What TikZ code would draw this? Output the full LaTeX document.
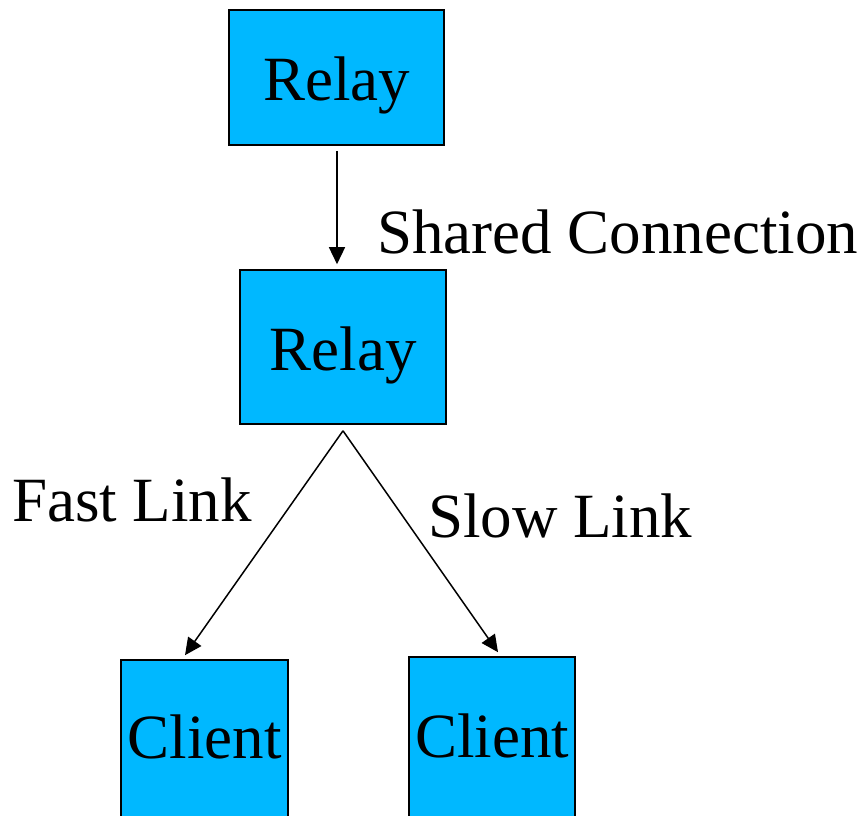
\documentclass[tikz,border=0pt]{standalone}
\usepackage{fontspec}
\setmainfont{Liberation Serif}
\usetikzlibrary{arrows.meta}
\definecolor{boxblue}{HTML}{00B8FF}
\begin{document}
\begin{tikzpicture}[x=1pt,y=-1pt,
  box/.style={draw=black, line width=1.6pt, fill=boxblue, inner sep=0pt,
    font=\fontsize{63}{70}\selectfont, text depth=0pt},
  lbl/.style={anchor=base west, inner sep=0pt, font=\fontsize{63}{70}\selectfont},
  arr/.style={draw=black, line width=1.5pt, -{Triangle[length=17pt,width=16pt]}}]
\clip (0,0) rectangle (868,815);
\fill[white] (0,0) rectangle (868,815);
\node[box, minimum width=215pt, minimum height=135pt, text height=45pt] (r1) at (336.5,77.5) {Relay};
\node[box, minimum width=206pt, minimum height=154pt, text height=46pt] (r2) at (343,347) {Relay};
\node[box, minimum width=167pt, minimum height=160pt, text height=36pt] (c1) at (204.5,740) {Client};
\node[box, minimum width=166pt, minimum height=160pt, text height=40pt] (c2) at (492,737) {Client};
\node[lbl] (t1) at (377,253) {Shared Connection};
\node[lbl] (t2) at (12,521) {Fast Link};
\node[lbl] (t3) at (428,537) {Slow Link};
\draw[arr] ([xshift=0.5pt,yshift=-5pt]r1.south) -- ([xshift=-6pt,yshift=5pt]r2.north);
\draw[arr] ([yshift=-6pt]r2.south) -- ([xshift=-19.5pt,yshift=4pt]c1.north);
\draw[arr] ([yshift=-6pt]r2.south) -- ([xshift=6pt,yshift=4pt]c2.north);
\end{tikzpicture}
\end{document}
